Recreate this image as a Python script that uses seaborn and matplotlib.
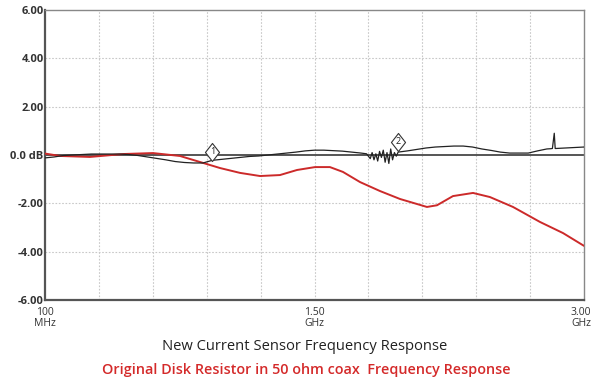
import numpy as np
import pandas as pd
import matplotlib
matplotlib.use("Agg")
import matplotlib.pyplot as plt
from matplotlib.path import Path
import seaborn as sns

# ---- data (frequency in GHz, response in dB) ----
red_freq = [0.100, 0.181, 0.342, 0.520, 0.681, 0.826, 0.934, 1.042, 1.149, 1.257,
            1.364, 1.456, 1.553, 1.633, 1.703, 1.795, 1.902, 2.010, 2.155, 2.209,
            2.295, 2.403, 2.494, 2.618, 2.763, 2.887, 3.000]
red_db = [0.06, -0.04, -0.08, 0.04, 0.08, -0.04, -0.29, -0.54, -0.74, -0.87,
          -0.83, -0.62, -0.50, -0.50, -0.70, -1.12, -1.49, -1.82, -2.15, -2.08,
          -1.70, -1.57, -1.74, -2.15, -2.77, -3.23, -3.76]

blk_freq = [0.10, 0.15, 0.20, 0.25, 0.30, 0.35, 0.40, 0.45, 0.50, 0.55,
            0.60, 0.65, 0.70, 0.75, 0.80, 0.85, 0.90, 0.95, 1.00, 1.05,
            1.10, 1.15, 1.20, 1.25, 1.30, 1.35, 1.40, 1.45, 1.50, 1.55,
            1.60, 1.65, 1.70, 1.75, 1.80, 1.83, 1.85, 1.86, 1.87, 1.88,
            1.89, 1.90, 1.91, 1.92, 1.93, 1.94, 1.95, 1.96, 1.97, 1.98,
            1.99, 2.00, 2.05, 2.10, 2.15, 2.20, 2.25, 2.30, 2.35, 2.40,
            2.45, 2.50, 2.55, 2.60, 2.65, 2.70, 2.75, 2.80, 2.82, 2.83,
            2.84, 2.845, 2.85, 2.90, 2.95, 3.00]
blk_db = [-0.12, -0.08, -0.02, 0.00, 0.02, 0.04, 0.04, 0.04, 0.04, 0.02,
          -0.02, -0.08, -0.14, -0.20, -0.27, -0.31, -0.33, -0.33, -0.22, -0.18,
          -0.14, -0.10, -0.06, -0.04, 0.00, 0.04, 0.08, 0.12, 0.17, 0.20,
          0.20, 0.18, 0.16, 0.12, 0.08, 0.05, -0.15, 0.10, -0.20, 0.05,
          -0.25, 0.15, -0.10, 0.20, -0.30, 0.10, -0.35, 0.25, -0.20, 0.10,
          -0.05, 0.12, 0.17, 0.23, 0.29, 0.33, 0.35, 0.37, 0.37, 0.33,
          0.25, 0.19, 0.12, 0.08, 0.08, 0.08, 0.17, 0.25, 0.26, 0.27,
          0.90, 0.27, 0.27, 0.29, 0.31, 0.33]

marker_freq = [1.00, 2.00]
marker_db = [0.14, 0.54]
marker_labels = ["1", "2"]

y_ticks = [6, 4, 2, 0, -2, -4, -6]
y_labels = ["6.00", "4.00", "2.00", "0.0 dB", "-2.00", "-4.00", "-6.00"]
x_label_pos = [0.10, 1.55, 2.985]
x_labels = ["100\nMHz", "1.50\nGHz", "3.00\nGHz"]

caption1 = "New Current Sensor Frequency Response"
caption2 = "Original Disk Resistor in 50 ohm coax  Frequency Response"

# ---- plot ----
sns.set_style("white")
plt.rcParams["font.family"] = ["Open Sans", "DejaVu Sans"]

fig = plt.figure(figsize=(5.92, 3.84), dpi=100)
ax = fig.add_axes([45/592, 1-300/384, (584-45)/592, 290/384])

red_df = pd.DataFrame({"f": red_freq, "db": red_db})
blk_df = pd.DataFrame({"f": blk_freq, "db": blk_db})

# grid
divs = [0.10 + i*0.29 for i in range(11)]
for xv in divs[1:-1]:
    ax.axvline(xv, color="#c8c8c8", lw=0.8, ls=(0, (1.5, 1.5)), zorder=0)
for yv in [4, 2, -2, -4]:
    ax.axhline(yv, color="#c8c8c8", lw=0.8, ls=(0, (1.5, 1.5)), zorder=0)
ax.axhline(0, color="#555555", lw=1.4, zorder=1)

sns.lineplot(data=red_df, x="f", y="db", ax=ax, color="#cc2a2a", lw=1.4, zorder=3)
sns.lineplot(data=blk_df, x="f", y="db", ax=ax, color="#222222", lw=0.9, zorder=4)

diamond = Path([(0, 1), (0.78, 0), (0, -1), (-0.78, 0), (0, 1)],
               [Path.MOVETO, Path.LINETO, Path.LINETO, Path.LINETO, Path.CLOSEPOLY])
for fx, dy, lab in zip(marker_freq, marker_db, marker_labels):
    ax.plot([fx], [dy], marker=diamond, ms=13, mfc="white", mec="#333333", mew=0.8, zorder=5)
    ax.text(fx, dy, lab, ha="center", va="center", fontsize=6.5, zorder=6, color="#222222")

ax.set_xlim(0.10, 3.00)
ax.set_ylim(-6, 6)
ax.set_yticks(y_ticks)
ax.set_yticklabels(y_labels, fontsize=8, fontweight="bold", color="#333333")
ax.set_xticks(x_label_pos)
ax.set_xticklabels(x_labels, fontsize=7.5, color="#333333", linespacing=1.0)
ax.tick_params(axis="y", length=0, pad=1)
ax.tick_params(axis="x", length=0, pad=5)
ax.set_xlabel("")
ax.set_ylabel("")
for s in ["top", "right"]:
    ax.spines[s].set_color("#888888")
    ax.spines[s].set_linewidth(1.0)
for s in ["left", "bottom"]:
    ax.spines[s].set_color("#555555")
    ax.spines[s].set_linewidth(1.6)

fig.text(305/592, 1-347/384, caption1, ha="center", va="center", fontsize=10.6, color="#222222")
fig.text(306/592, 1-370/384, caption2, ha="center", va="center", fontsize=10.4,
         color="#d42a2a", fontweight="semibold")

fig.savefig("out.png", dpi=100)
